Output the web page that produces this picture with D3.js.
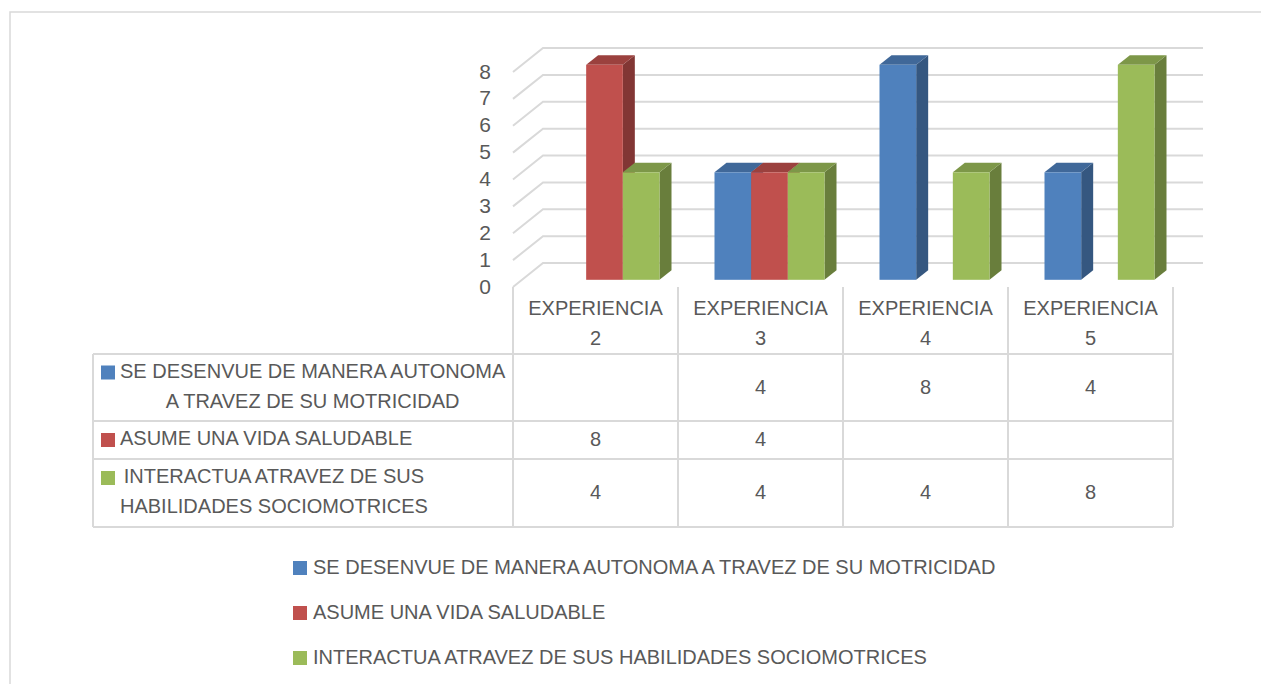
<!DOCTYPE html>
<html>
<head>
<meta charset="utf-8">
<script src="https://cdn.jsdelivr.net/npm/d3@7"></script>
<style>
  body { margin: 0; background: #fff; }
  svg { display: block; font-family: "Liberation Sans", Arial, sans-serif; }
  text { fill: #595959; }
</style>
</head>
<body>
<svg id="chart" width="1261" height="684"></svg>
<script>
// Data
const categories = ['EXPERIENCIA 2', 'EXPERIENCIA 3', 'EXPERIENCIA 4', 'EXPERIENCIA 5'];
const seriesNames = [
    'SE DESENVUE DE MANERA AUTONOMA A TRAVEZ DE SU MOTRICIDAD',
    'ASUME UNA VIDA SALUDABLE',
    'INTERACTUA ATRAVEZ DE SUS HABILIDADES SOCIOMOTRICES'
];
// how each series name wraps inside the data table
const tableLabelLines = [
    ['SE DESENVUE DE MANERA AUTONOMA', 'A TRAVEZ DE SU MOTRICIDAD'],
    ['ASUME UNA VIDA SALUDABLE'],
    ['INTERACTUA ATRAVEZ DE SUS', 'HABILIDADES SOCIOMOTRICES']
];
const seriesValues = [
    [null, 4, 8, 4],
    [8, 4, null, null],
    [4, 4, 4, 8]
];
const yTicks = [0, 1, 2, 3, 4, 5, 6, 7, 8];
const colors = ['#4f81bd', '#c0504d', '#9bbb59'];

const svg = d3.select('#chart');
const gridColor = '#d9d9d9';
const fontSize = 20;

// outer chart border (runs off the right/bottom of the picture)
svg.append('rect')
    .attr('x', 10).attr('y', 12)
    .attr('width', 1400).attr('height', 800)
    .style('fill', 'none')
    .style('stroke', gridColor)
    .style('stroke-width', 1.5);

// 3D oblique projection: depth 0 = front plane, 1 = back wall
const depthX = 30, depthY = -24;
const proj = (x, y, d) => [x + d * depthX, y + d * depthY];

const x = d3.scaleBand().domain(categories).range([513, 1173]);
const xInner = d3.scaleBand().domain(d3.range(seriesNames.length))
    .range([0, x.bandwidth()]).paddingInner(0).paddingOuter(0.75);
const y = d3.scaleLinear().domain([0, 8]).range([287, 72]);

const [x0, x1] = x.range();

// gridlines: left side wall diagonal + back wall horizontal
const grid = svg.append('g');
yTicks.forEach(v => {
    const f = proj(x0, y(v), 0), b = proj(x0, y(v), 1), e = proj(x1, y(v), 1);
    grid.append('path')
        .attr('d', d3.line()([f, b, e]))
        .style('fill', 'none')
        .style('stroke', gridColor)
        .style('stroke-width', 2);
});

// y tick labels
svg.append('g').selectAll('text')
    .data(yTicks)
    .enter()
    .append('text')
    .attr('x', 491)
    .attr('y', d => y(d) + 1)
    .attr('text-anchor', 'end')
    .attr('dominant-baseline', 'middle')
    .style('font-size', '21px')
    .text(d => d);

// bars (left to right so the next front face hides the previous side face)
const barFront = 0.3, barDepth = 0.4;
const bars = svg.append('g');
categories.forEach((cat, ci) => {
    seriesValues.forEach((vals, si) => {
        const v = vals[ci];
        if (v == null) return;
        const bl = x(cat) + xInner(si), br = bl + xInner.bandwidth();
        const [l, bot] = proj(bl, y(0), barFront);
        const [r, top] = proj(br, y(v), barFront);
        const dx = barDepth * depthX, dy = barDepth * depthY;
        const c = d3.color(colors[si]);
        bars.append('polygon')
            .attr('points', [[r, top], [r + dx, top + dy], [r + dx, bot + dy], [r, bot]].join(' '))
            .style('fill', c.darker(1.1));
        bars.append('polygon')
            .attr('points', [[l, top], [l + dx, top + dy], [r + dx, top + dy], [r, top]].join(' '))
            .style('fill', c.darker(0.6));
        bars.append('rect')
            .attr('x', l).attr('y', top)
            .attr('width', r - l).attr('height', bot - top)
            .style('fill', c);
    });
});

// data table
const tableLeft = 93;
const rowLines = [354, 421, 459, 527];
const headerTop = 287;
const table = svg.append('g')
    .style('stroke', gridColor)
    .style('stroke-width', 2);

rowLines.forEach(ly => {
    table.append('line')
        .attr('x1', tableLeft).attr('x2', x1)
        .attr('y1', ly).attr('y2', ly);
});
table.append('line')
    .attr('x1', tableLeft).attr('x2', tableLeft)
    .attr('y1', rowLines[0]).attr('y2', rowLines[rowLines.length - 1]);
categories.map(c => x(c)).concat([x1]).forEach(lx => {
    table.append('line')
        .attr('x1', lx).attr('x2', lx)
        .attr('y1', headerTop).attr('y2', rowLines[rowLines.length - 1]);
});

// category headers
categories.forEach(cat => {
    const parts = [cat.slice(0, cat.lastIndexOf(' ')), cat.slice(cat.lastIndexOf(' ') + 1)];
    parts.forEach((p, i) => {
        svg.append('text')
            .attr('x', x(cat) + x.bandwidth() / 2)
            .attr('y', 310 + i * 30)
            .attr('text-anchor', 'middle')
            .attr('dominant-baseline', 'middle')
            .style('font-size', fontSize + 'px')
            .text(p);
    });
});

// row labels with legend keys
const lineGap = 30;
seriesNames.forEach((name, si) => {
    const top = rowLines[si], bottom = rowLines[si + 1];
    const mid = (top + bottom) / 2;
    const lines = tableLabelLines[si];
    const firstY = mid - (lines.length - 1) * lineGap / 2;

    svg.append('rect')
        .attr('x', 101).attr('y', firstY - 7)
        .attr('width', 14).attr('height', 14)
        .style('fill', colors[si]);

    const g = svg.append('g');
    const texts = lines.map((ln, i) => g.append('text')
        .attr('x', 120)
        .attr('y', firstY + i * lineGap)
        .attr('dominant-baseline', 'middle')
        .style('font-size', fontSize + 'px')
        .text(ln));
    // center the shorter lines within the block of the widest line
    const widths = texts.map(t => t.node().getComputedTextLength());
    const maxW = d3.max(widths);
    texts.forEach((t, i) => t.attr('x', 120 + (maxW - widths[i]) / 2));

    // values
    seriesValues[si].forEach((v, ci) => {
        if (v == null) return;
        svg.append('text')
            .attr('x', x(categories[ci]) + x.bandwidth() / 2)
            .attr('y', mid + 1)
            .attr('text-anchor', 'middle')
            .attr('dominant-baseline', 'middle')
            .style('font-size', fontSize + 'px')
            .text(v);
    });
});

// legend below
const legend = svg.append('g');
seriesNames.forEach((name, i) => {
    const ly = 568 + i * 45;
    legend.append('rect')
        .attr('x', 293).attr('y', ly - 7)
        .attr('width', 14).attr('height', 14)
        .style('fill', colors[i]);
    legend.append('text')
        .attr('x', 313).attr('y', ly + 1)
        .attr('dominant-baseline', 'middle')
        .style('font-size', fontSize + 'px')
        .text(name);
});
</script>
</body>
</html>
